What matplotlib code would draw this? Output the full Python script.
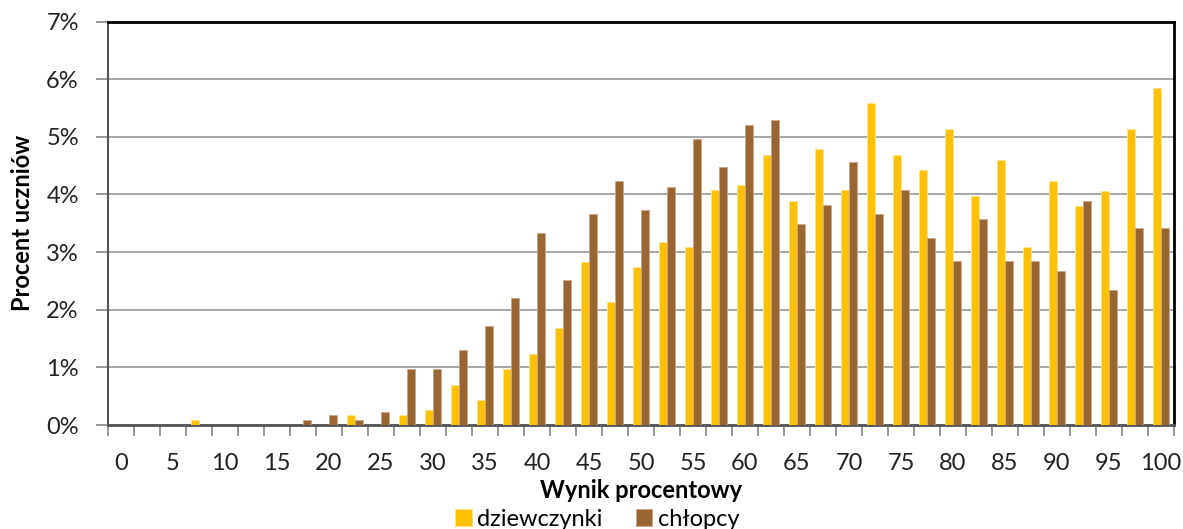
import matplotlib
matplotlib.use("Agg")
import matplotlib.pyplot as plt
from matplotlib.ticker import FuncFormatter, FixedLocator

plt.rcParams['font.family'] = ['Lato', 'DejaVu Sans']

scores = [0, 2.5, 5, 7.5, 10, 12.5, 15, 17.5, 20, 22.5, 25, 27.5, 30, 32.5, 35,
          37.5, 40, 42.5, 45, 47.5, 50, 52.5, 55, 57.5, 60, 62.5, 65, 67.5, 70,
          72.5, 75, 77.5, 80, 82.5, 85, 87.5, 90, 92.5, 95, 97.5, 100]

dziewczynki = [0, 0, 0, 0.08, 0, 0, 0, 0, 0, 0.17, 0, 0.17, 0.26, 0.70, 0.43,
               0.97, 1.24, 1.68, 2.82, 2.13, 2.74, 3.18, 3.08, 4.07, 4.16, 4.69,
               3.89, 4.78, 4.07, 5.58, 4.69, 4.43, 5.14, 3.98, 4.60, 3.08, 4.24,
               3.80, 4.06, 5.14, 5.84]

chlopcy = [0, 0, 0, 0, 0, 0, 0, 0.08, 0.17, 0.08, 0.23, 0.97, 0.97, 1.30, 1.71,
           2.20, 3.33, 2.51, 3.66, 4.23, 3.73, 4.13, 4.96, 4.47, 5.20, 5.29,
           3.49, 3.82, 4.56, 3.66, 4.07, 3.24, 2.84, 3.58, 2.84, 2.84, 2.68,
           3.89, 2.35, 3.42, 3.42]

tick_labels = ["0", "5", "10", "15", "20", "25", "30", "35", "40", "45", "50",
               "55", "60", "65", "70", "75", "80", "85", "90", "95", "100"]

FS = 17

fig = plt.figure(figsize=(11.83, 5.29), dpi=100)
ax = fig.add_axes([108/1183, (529-425)/529, (1174-108)/1183, (425-21.5)/529])

idx = list(range(len(scores)))
w = 0.29
ax.bar([i - w/2 for i in idx], dziewczynki, width=w, color='#FFC000',
       edgecolor='#FFE38A', linewidth=0.6, label='dziewczynki', zorder=3)
ax.bar([i + w/2 for i in idx], chlopcy, width=w, color='#996633',
       edgecolor='#C9A88A', linewidth=0.6, label='chłopcy', zorder=3)

ax.set_xlim(-0.5, len(scores) - 0.5)
ax.set_ylim(0, 7)
ax.set_yticks(range(0, 8))
ax.yaxis.set_major_formatter(FuncFormatter(lambda v, p: f"{int(v)}%"))
ax.grid(axis='y', color='#A0A0A0', linewidth=1.3, zorder=0)

ax.xaxis.set_major_locator(FixedLocator([i for i in idx if scores[i] % 5 == 0]))
ax.set_xticklabels(tick_labels)
ax.xaxis.set_minor_locator(FixedLocator([i - 0.5 for i in range(len(scores) + 1)]))
ax.tick_params(axis='x', which='major', length=0, pad=20, labelsize=FS, colors='#222222')
ax.tick_params(axis='x', which='minor', length=8, width=1.2, color='#888888', direction='out')
ax.tick_params(axis='y', length=9, width=1.2, color='#888888', pad=12, labelsize=FS,
               labelcolor='#222222')

for s in ['top', 'right']:
    ax.spines[s].set_color('black')
    ax.spines[s].set_linewidth(2)
ax.spines['left'].set_color('#555555')
ax.spines['left'].set_linewidth(1.5)
ax.spines['bottom'].set_color('#555555')
ax.spines['bottom'].set_linewidth(2)

ax.set_xlabel('Wynik procentowy', fontsize=FS, fontweight='bold', labelpad=4)
ax.set_ylabel('Procent uczniów', fontsize=FS, fontweight='bold', labelpad=9)

fig.legend(loc='lower center', bbox_to_anchor=(0.505, -0.042), ncol=2, frameon=False,
           fontsize=FS, handlelength=0.7, handleheight=0.7, handletextpad=0.25,
           columnspacing=1.4)

fig.savefig('out.png', dpi=100)
